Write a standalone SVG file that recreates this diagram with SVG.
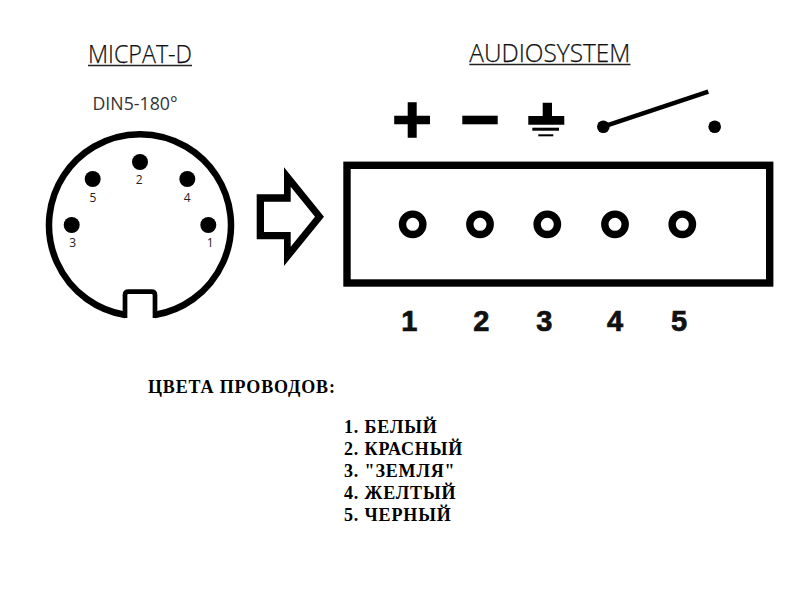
<svg xmlns="http://www.w3.org/2000/svg" width="788" height="594" viewBox="0 0 788 594">
<style>
.t{font-family:"Open Sans","Noto Sans",sans-serif;font-weight:300;fill:#111;stroke:#111;stroke-width:.25}
.u{stroke:#222;stroke-width:1.4;fill:none}
.p{font-family:"Open Sans","Noto Sans",sans-serif;font-size:12px;fill:#222;text-anchor:middle}
.n{font-family:"Liberation Sans",Arial,sans-serif;font-weight:700;font-size:29px;fill:#111;stroke:#111;stroke-width:.7;text-anchor:middle}
.c{font-family:"Liberation Serif","Times New Roman",serif;font-weight:700;font-size:18px;letter-spacing:.85px;fill:#000}
.ring{fill:#fff;stroke:#000;stroke-width:7.4}
</style>
<rect width="788" height="594" fill="#fff"/>
<g id="title-left">
<text class="t" x="88" y="63" font-size="25" textLength="104" lengthAdjust="spacingAndGlyphs">MICPAT-D</text>
<line class="u" x1="88" y1="65.5" x2="192" y2="65.5"/>
<text class="t" x="92.5" y="110" font-size="18.5" style="stroke:none;font-weight:400;fill:#333" textLength="85" lengthAdjust="spacingAndGlyphs">DIN5-180°</text>
</g>
<g id="din-connector">
<path d="M125.500 315 A91 91 0 1 1 154.500 315" fill="none" stroke="#000" stroke-width="6.500"/>
<path d="M125 318 V295 Q125 291.700 128.500 291.700 H151.500 Q155 291.700 155 295 V318" fill="none" stroke="#000" stroke-width="4.700"/>
<circle cx="140" cy="162" r="8"/><circle cx="92.700" cy="179" r="8"/><circle cx="187.300" cy="179" r="8"/><circle cx="71.700" cy="225" r="8"/><circle cx="208.300" cy="225" r="8"/>
<text class="p" x="139.300" y="184">2</text><text class="p" x="93" y="202">5</text><text class="p" x="187.300" y="202">4</text><text class="p" x="72.700" y="247">3</text><text class="p" x="210.300" y="247">1</text>
</g>
<g id="connectors">
<path fill-rule="evenodd" d="M256.700 194.300H284V167.300L324 216.700L284 266V239.300H256.700ZM264 201.700V232H290.700V246.700L315 216.700L290.700 186.700V201.700Z"/>
</g>
<g id="title-right">
<text class="t" x="469.300" y="62" font-size="25" textLength="161" lengthAdjust="spacingAndGlyphs">AUDIOSYSTEM</text>
<line class="u" x1="469.300" y1="64.500" x2="630.500" y2="64.500"/>
</g>
<g id="symbols">
<path d="M394.200 115.700H407.700V102.300H416.700V115.700H430V124.300H416.700V137.700H407.700V124.300H394.200Z"/>
<rect x="462.300" y="115.700" width="35.400" height="8.600"/>
<path d="M542.700 102.700H552V116H564.300V124.700H528.300V116H542.700Z"/>
<rect x="532.300" y="127.700" width="26.700" height="3"/><rect x="538.300" y="134.300" width="15" height="2"/>
<circle cx="603.300" cy="126.700" r="6.300"/><circle cx="714.700" cy="126.700" r="6.300"/>
<line x1="603.300" y1="126.700" x2="708.300" y2="91.700" stroke="#000" stroke-width="4.500"/>
</g>
<g id="audiosystem-block">
<rect x="347" y="165.300" width="422.700" height="117.700" fill="#fff" stroke="#000" stroke-width="7.400"/>
<circle class="ring" cx="412.700" cy="224.300" r="10.200"/><circle class="ring" cx="480" cy="224.300" r="10.200"/><circle class="ring" cx="547.300" cy="224.300" r="10.200"/><circle class="ring" cx="615" cy="224.300" r="10.200"/><circle class="ring" cx="682.300" cy="224.300" r="10.200"/>
<text class="n" x="409.300" y="331">1</text><text class="n" x="481.300" y="331">2</text><text class="n" x="544.300" y="331">3</text><text class="n" x="615" y="331">4</text><text class="n" x="679" y="331">5</text>
</g>
<g id="wire-colours">
<text class="c" x="148" y="393">ЦВЕТА ПРОВОДОВ:</text>
<text class="c" x="344" y="433">1. БЕЛЫЙ</text>
<text class="c" x="344" y="455">2. КРАСНЫЙ</text>
<text class="c" x="344" y="477">3. "ЗЕМЛЯ"</text>
<text class="c" x="344" y="499">4. ЖЕЛТЫЙ</text>
<text class="c" x="344" y="521">5. ЧЕРНЫЙ</text>
</g>
</svg>
